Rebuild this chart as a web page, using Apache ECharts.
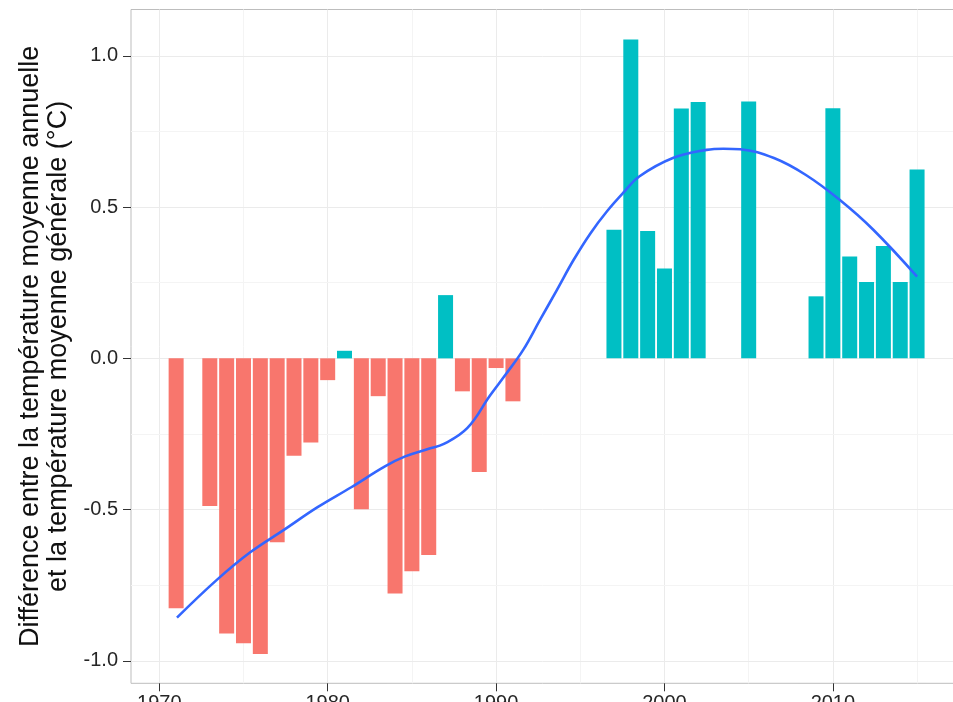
<!DOCTYPE html>
<html>
<head>
<meta charset="utf-8">
<script src="https://cdn.jsdelivr.net/npm/echarts@6/dist/echarts.min.js"></script>
<style>html,body{margin:0;padding:0;background:#fff;}#c{width:953px;height:702px;}</style>
</head>
<body>
<div id="c"></div>
<script>
const years = [1971,1973,1974,1975,1976,1977,1978,1979,1980,1981,1982,1983,1984,1985,1986,1987,1988,1989,1990,1991,
  1997,1998,1999,2000,2001,2002,2005,2009,2010,2011,2012,2013,2014,2015];
const anomalies = [-0.826,-0.488,-0.909,-0.942,-0.977,-0.608,-0.322,-0.278,-0.072,0.025,-0.499,-0.125,-0.777,-0.704,-0.650,0.209,-0.109,-0.376,-0.032,-0.142,
  0.425,1.054,0.421,0.297,0.826,0.847,0.849,0.205,0.827,0.337,0.252,0.371,0.252,0.624];
const smoothYears = [1971.05,1973.4,1975.4,1977.4,1979.4,1981.4,1983.4,1984.6,1986.0,1986.9,1988.3,1989.65,1990.6,1991.6,1992.6,1993.6,1994.6,1995.6,1996.6,1997.6,1998.5,2000.5,2002.5,2003.5,2004.5,2006.5,2008.4,2010.4,2012.4,2015.0];
const smoothValues = [-0.857,-0.733,-0.641,-0.567,-0.492,-0.426,-0.357,-0.324,-0.299,-0.283,-0.230,-0.122,-0.051,0.027,0.126,0.225,0.325,0.413,0.487,0.550,0.601,0.662,0.689,0.693,0.691,0.662,0.606,0.524,0.425,0.270];
const xTicks = [1970,1980,1990,2000,2010];
const xMinorGrid = [1975,1985,1995,2005,2015];
const yTicks = [-1.0,-0.5,0.0,0.5,1.0];
const yMinorGrid = [-0.75,-0.25,0.25,0.75];
const yTitle = 'Différence entre la température moyenne annuelle\net la température moyenne générale (°C)';

const FONT = "'Liberation Sans', Arial, sans-serif";
const POS = '#00BFC4', NEG = '#F8766D';

const gridLines = [].concat(
  xMinorGrid.map(v => ({xAxis: v, lineStyle: {color: '#f4f4f4'}})),
  xTicks.map(v => ({xAxis: v, lineStyle: {color: '#ebebeb'}})),
  yMinorGrid.map(v => ({yAxis: v, lineStyle: {color: '#f4f4f4'}})),
  yTicks.map(v => ({yAxis: v, lineStyle: {color: '#ebebeb'}}))
);

const chart = echarts.init(document.getElementById('c'), null, {renderer: 'canvas'});
chart.setOption({
  animation: false,
  backgroundColor: '#fff',
  grid: {left: 131, right: -9.2, top: 9.5, bottom: 18.7, containLabel: false, outerBoundsMode: 'none',
    show: true, borderColor: '#bdbdbd', borderWidth: 1, backgroundColor: 'transparent'},
  xAxis: {
    type: 'value', min: 1968.32, max: 2017.68,
    axisLine: {show: false, onZero: false},
    splitLine: {show: false},
    axisTick: {show: true, length: 8, customValues: xTicks, lineStyle: {color: '#333', width: 1}},
    axisLabel: {customValues: xTicks, margin: 10, fontSize: 20, color: '#262626', fontFamily: FONT, formatter: v => String(v)}
  },
  yAxis: {
    type: 'value', min: -1.074, max: 1.153,
    axisLine: {show: false, onZero: false},
    splitLine: {show: false},
    axisTick: {show: true, length: 8, customValues: yTicks, lineStyle: {color: '#333', width: 1}},
    axisLabel: {customValues: yTicks, margin: 13, fontSize: 20, color: '#262626', fontFamily: FONT, formatter: v => v.toFixed(1)},
    name: yTitle, nameLocation: 'middle', nameGap: 58,
    nameTextStyle: {fontSize: 27, lineHeight: 28, color: '#111', fontFamily: FONT, align: 'center'}
  },
  series: [
    {
      type: 'line', data: [], silent: true, z: 0,
      markLine: {silent: true, symbol: ['none','none'], label: {show: false}, z: 0, animation: false,
        lineStyle: {type: 'solid', width: 1}, emphasis: {disabled: true}, data: gridLines}
    },
    {
      type: 'bar', barWidth: 15, z: 2,
      data: years.map((y, i) => [y, anomalies[i]]),
      itemStyle: {color: p => (p.value[1] >= 0 ? POS : NEG)}
    },
    {
      type: 'line', smooth: 0.4, showSymbol: false, symbol: 'none', z: 3,
      data: smoothYears.map((y, i) => [y, smoothValues[i]]),
      lineStyle: {color: '#3366FF', width: 2.6}
    }
  ]
});
</script>
</body>
</html>
